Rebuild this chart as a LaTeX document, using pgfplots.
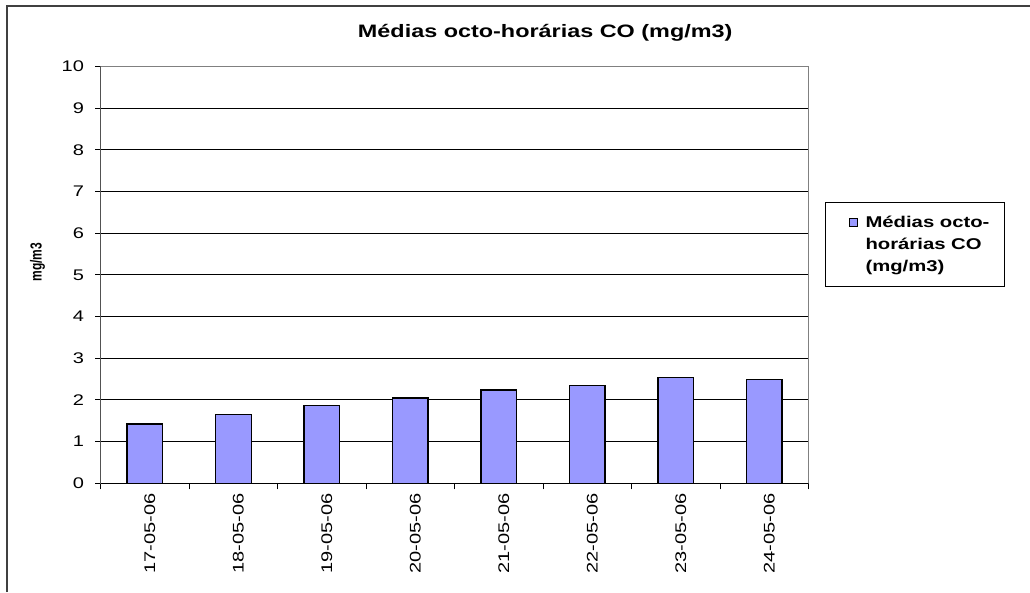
\documentclass[border=0pt]{standalone}
\usepackage{pgfplots}
\pgfplotsset{compat=1.18}
\usepackage{fontspec}
\setmainfont{Liberation Sans}[FakeStretch=1.3]
\newfontfamily\ylfont{Liberation Sans}[FakeStretch=0.75]
\definecolor{barblue}{HTML}{9999FF}
\definecolor{framegray}{HTML}{404040}

\begin{document}
\begin{tikzpicture}
\useasboundingbox (0,0) rectangle (772.5pt,444pt);
\draw[framegray, line width=1.5pt] (5.25pt,0) -- (5.25pt,439.5pt) -- (772.5pt,439.5pt);
\begin{axis}[
  at={(75.5pt,81.5pt)}, anchor=south west,
  scale only axis, width=530.9pt, height=312.75pt,
  ybar, bar width=26.7pt,
  xmin=-0.5, xmax=7.5, ymin=0, ymax=10,
  xtick={0,...,7},
  xticklabels={17-05-06,18-05-06,19-05-06,20-05-06,21-05-06,22-05-06,23-05-06,24-05-06},
  minor xtick={-0.5,0.5,...,7.5},
  every major x tick/.style={draw=none},
  ytick={0,...,10},
  tick pos=left,
  tick align=outside, major tick length=4pt, minor tick length=4.5pt,
  tick style={black, line width=0.75pt},
  /pgf/number format/assume math mode=true,
  tick label style={font=\fontsize{11.55pt}{13pt}\selectfont},
  xticklabel style={rotate=90, anchor=east, yshift=-3.75pt},
  yticklabel style={anchor=east, xshift=-5pt},
  ymajorgrids, major grid style={black, line width=0.75pt},
  axis line style={draw=gray, line width=0.75pt},
  title={Médias octo-horárias CO (mg/m3)},
  title style={font=\bfseries\fontsize{13.5pt}{16pt}\selectfont,
    at={(axis description cs:0.628,1.051)}, anchor=base},
  ylabel={mg/m3},
  ylabel style={font=\ylfont\bfseries\fontsize{12pt}{14pt}\selectfont,
    at={(axis description cs:-0.0893,0.53)}, anchor=center},
  legend style={at={(axis description cs:1.0233,0.675)}, anchor=north west,
    draw=black, line width=0.75pt, inner xsep=0pt, inner ysep=10pt,
    /tikz/column sep=0pt,
    font=\bfseries\fontsize{11.7pt}{16.5pt}\selectfont,
    nodes={align=left, inner sep=0pt}},
  legend cell align=left,
  legend image code/.code={
    \path[draw=none, fill=none] (0pt,0pt) -- (30pt,0pt);
    \draw[fill=barblue, draw=black, line width=0.5pt] (17.5pt,13.5pt) rectangle (23.5pt,19.5pt);},
]
\addplot[fill=barblue, draw=black, line width=1pt] coordinates {
  (0,1.42) (1,1.65) (2,1.86) (3,2.05) (4,2.24) (5,2.35) (6,2.53) (7,2.49)};
\addlegendentry{Médias octo-\hspace*{11pt}\\horárias CO\\(mg/m3)}
\draw[black, line width=0.75pt] (rel axis cs:0,1) -- (rel axis cs:0,0) -- (rel axis cs:1,0);
\end{axis}
\end{tikzpicture}
\end{document}
